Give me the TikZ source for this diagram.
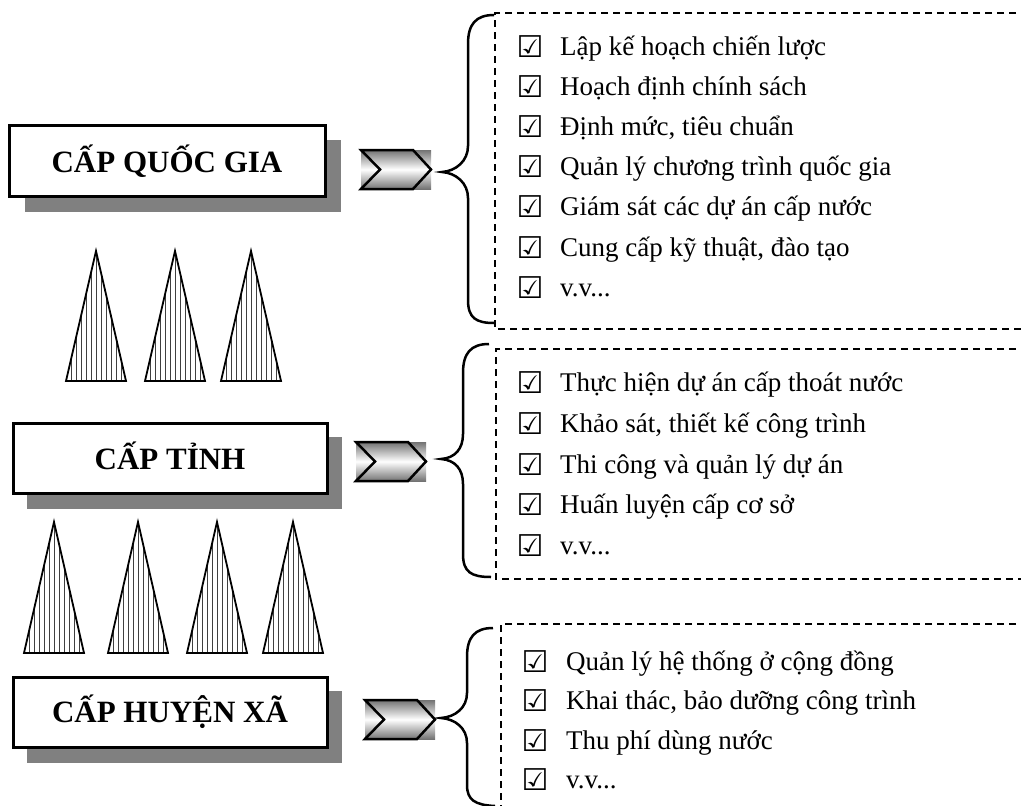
\documentclass[tikz,border=0pt]{standalone}
\usepackage{fontspec}
\setmainfont{Liberation Serif}
\newfontfamily\chkfont{DejaVu Sans Bold}
\newcommand\itemfont{\fontsize{27}{30}\selectfont}
\newcommand\titlefont{\bfseries\fontsize{31}{34}\selectfont}
\newcommand\boxglyph{\chkfont\fontsize{30}{32}\selectfont}
\tikzset{
  levelbox/.style={draw, line width=3pt, fill=white, inner sep=0pt},
  shadowbox/.style={fill=black!50},
  title/.style={font=\titlefont, anchor=base, inner sep=0pt},
  item/.style={font=\itemfont, anchor=base west, inner sep=0pt},
  chk/.style={font=\boxglyph, anchor=center, inner sep=0pt},
  chevline/.style={line width=2.5pt, line join=miter},
  hatch/.style={line width=0.9pt, black!75},
  triline/.style={line width=1.8pt, line join=miter},
  bracel/.style={line width=2.5pt},
  dashbox/.style={line width=1.4pt, dash pattern=on 7pt off 5pt}
}
\newcommand\mychevron[2]{%
  \shade[top color=black!55, bottom color=black!55, middle color=white] (#1,#2) rectangle ++(70,39);
  \draw[chevline] (#1,#2) -- ++(52,0) -- ++(18,19.5) -- ++(-18,19.5) -- ++(-52,0) -- ++(19,-19.5) -- cycle;}
\newcommand\hatchtri[4]{%
  \begin{scope}
    \clip (#1,#2) -- (#1-#4,#3) -- (#1+#4,#3) -- cycle;
    \foreach \k in {-30,-25,...,30} \draw[hatch] (#1+\k,#2) -- (#1+\k,#3);
  \end{scope}
  \draw[triline] (#1,#2) -- (#1-#4,#3) -- (#1+#4,#3) -- cycle;}
\begin{document}
\begin{tikzpicture}[x=1pt,y=-1pt]
\clip (0,0) rectangle (1021,806);
\fill[white] (0,0) rectangle (1021,806);

% ---------- level boxes ----------
\fill[shadowbox] (25,140) rectangle (341,212);
\node[levelbox, minimum width=316pt, minimum height=71pt] (b1) at (167,160.5) {};
\node[title] (t1) at (167,172) {CẤP QUỐC GIA};

\fill[shadowbox] (27,437) rectangle (342,509);
\node[levelbox, minimum width=314pt, minimum height=70pt] (b2) at (170,458) {};
\node[title] (t2) at (170,469) {CẤP TỈNH};

\fill[shadowbox] (27,691) rectangle (342,763);
\node[levelbox, minimum width=314pt, minimum height=70pt] (b3) at (170,712) {};
\node[title] (t3) at (170,722) {CẤP HUYỆN XÃ};

% ---------- chevrons ----------
\mychevron{361}{150}
\mychevron{356}{442}
\mychevron{365}{700}

% ---------- triangles ----------
\hatchtri{96}{251}{381}{30}
\hatchtri{175}{251}{381}{30}
\hatchtri{251}{251}{381}{30}

\hatchtri{54}{522}{653}{30}
\hatchtri{138}{522}{653}{30}
\hatchtri{217}{522}{653}{30}
\hatchtri{293}{522}{653}{30}

% ---------- braces ----------
\draw[bracel] (494,15) .. controls (476,15) and (468,24) .. (468,44) -- (468,146)
  .. controls (468,161) and (456,171) .. (442,172)
  .. controls (456,173) and (468,183) .. (468,198) -- (468,300)
  .. controls (468,318) and (476,323) .. (494,323);
\draw[bracel] (489,344) .. controls (471,344) and (463,353) .. (463,373) -- (463,434)
  .. controls (463,449) and (455,458) .. (441,459)
  .. controls (455,460) and (463,469) .. (463,484) -- (463,554)
  .. controls (463,572) and (471,577) .. (491,577);
\draw[bracel] (493,628) .. controls (475,628) and (467,637) .. (467,657) -- (467,693)
  .. controls (467,708) and (455,717) .. (441,718)
  .. controls (455,719) and (467,728) .. (467,743) -- (467,785)
  .. controls (467,800) and (475,805) .. (495,806);

% ---------- dashed boxes ----------
\draw[dashbox] (1040,13) -- (495,13) -- (495,329) -- (1040,329);
\draw[dashbox] (1040,349) -- (496,349) -- (496,579) -- (1040,579);
\draw[dashbox] (1040,624) -- (501,624) -- (501,830);

% ---------- items, level 1 ----------
\foreach \n/\y/\t in {1/55/{Lập kế hoạch chiến lược},
                      2/95/{Hoạch định chính sách},
                      3/135/{Định mức, tiêu chuẩn},
                      4/175/{Quản lý chương trình quốc gia},
                      5/215/{Giám sát các dự án cấp nước},
                      6/256/{Cung cấp kỹ thuật, đào tạo},
                      7/296/{v.v...}}{
  \node[chk] (qc\n) at (530,\y-8) {☑};
  \node[item] (qi\n) at (560,\y) {\t};
}
% ---------- items, level 2 ----------
\foreach \n/\y/\t in {1/391/{Thực hiện dự án cấp thoát nước},
                      2/432/{Khảo sát, thiết kế công trình},
                      3/473/{Thi công và quản lý dự án},
                      4/513/{Huấn luyện cấp cơ sở},
                      5/554/{v.v...}}{
  \node[chk] (tc\n) at (530,\y-8) {☑};
  \node[item] (ti\n) at (560,\y) {\t};
}
% ---------- items, level 3 ----------
\foreach \n/\y/\t in {1/670/{Quản lý hệ thống ở cộng đồng},
                      2/709/{Khai thác, bảo dưỡng công trình},
                      3/749/{Thu phí dùng nước},
                      4/788/{v.v...}}{
  \node[chk] (hc\n) at (535,\y-8) {☑};
  \node[item] (hi\n) at (566,\y) {\t};
}
\end{tikzpicture}
\end{document}
